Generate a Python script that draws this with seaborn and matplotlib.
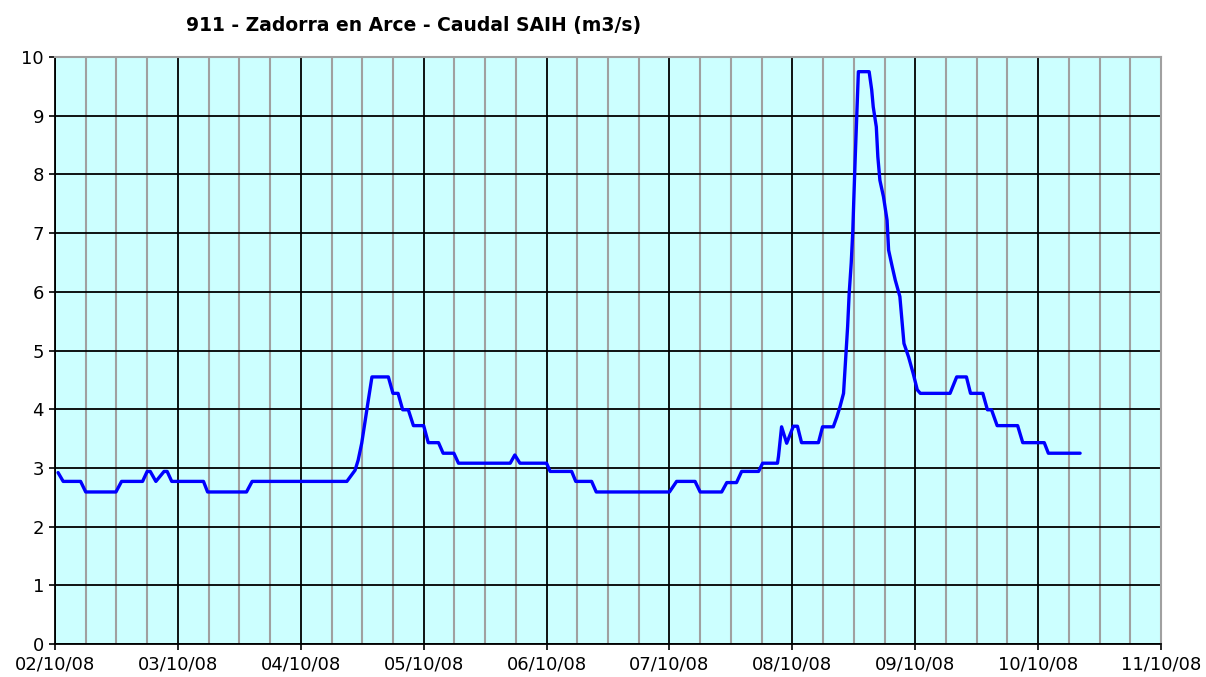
import pandas as pd
import matplotlib
matplotlib.use('Agg')
import matplotlib.pyplot as plt
import matplotlib.dates as mdates
import seaborn as sns

# hours since 02/10/08 00:00 and flow (m3/s)
hours = [0.6, 1.6, 5, 6, 11.9, 13, 17.1, 18, 18.6, 19.7, 21.3, 21.9, 22.8, 29, 29.8,
         37.4, 38.5, 57, 58.6, 59.2, 59.9, 60.5, 61.2, 61.9, 65.1, 66, 67, 67.9, 69, 70,
         72, 72.9, 74.9, 75.8, 77.9, 78.8, 88.9, 89.8, 90.8, 96, 96.7, 100.9, 101.7,
         104.8, 105.7, 120, 121.4, 125, 126, 130.2, 131.2, 133.1, 134.1, 137.4, 138.2,
         141.1, 141.3, 141.9, 142.9, 144.2, 145, 145.8, 149.1, 149.9, 152, 152.7, 153.3,
         154, 154.4, 154.8, 155.1, 155.5, 155.8, 156, 156.3, 156.6, 156.9, 159, 159.5,
         159.8, 160.4, 160.7, 161.1, 161.8, 162.5, 162.8, 163.5, 164.1, 165, 165.8,
         166.7, 167.6, 168.4, 169, 174.8, 176.1, 178, 178.8, 181.2, 182.1, 182.9, 184,
         188, 189, 193.2, 194, 200.2]
caudal = [2.92, 2.77, 2.77, 2.59, 2.59, 2.77, 2.77, 2.94, 2.94, 2.77, 2.94, 2.94, 2.77,
          2.77, 2.59, 2.59, 2.77, 2.77, 2.96, 3.13, 3.42, 3.76, 4.16, 4.55, 4.55, 4.27,
          4.27, 3.99, 3.99, 3.72, 3.72, 3.43, 3.43, 3.25, 3.25, 3.08, 3.08, 3.22, 3.08,
          3.08, 2.94, 2.94, 2.77, 2.77, 2.59, 2.59, 2.77, 2.77, 2.59, 2.59, 2.75, 2.75,
          2.94, 2.94, 3.08, 3.08, 3.2, 3.70, 3.42, 3.71, 3.71, 3.43, 3.43, 3.70, 3.70,
          3.87, 4.04, 4.27, 4.84, 5.41, 5.97, 6.49, 7.02, 7.56, 8.33, 9.04, 9.75, 9.75,
          9.44, 9.15, 8.81, 8.30, 7.90, 7.62, 7.22, 6.71, 6.43, 6.20, 5.92, 5.12, 4.89,
          4.61, 4.33, 4.27, 4.27, 4.55, 4.55, 4.27, 4.27, 3.99, 3.99, 3.72, 3.72, 3.43,
          3.43, 3.25, 3.25]

start = pd.Timestamp('2008-10-02')
end = pd.Timestamp('2008-10-11')
df = pd.DataFrame({'t': start + pd.to_timedelta(hours, unit='h'), 'q': caudal})

sns.set_style('ticks', {'axes.facecolor': '#CCFFFF', 'text.color': 'black',
                        'xtick.color': 'black', 'ytick.color': 'black'})
plt.rcParams['font.family'] = ['DejaVu Sans']

fig = plt.figure(figsize=(12.06, 6.77), dpi=100)
ax = fig.add_axes([55 / 1206, 1 - 644 / 677, (1161 - 55) / 1206, (644 - 57) / 677])

sns.lineplot(data=df, x='t', y='q', ax=ax, color='#0000FF', linewidth=2.4)

ax.set_xlim(start, end)
ax.set_ylim(0, 10)
ax.set_yticks(range(0, 11))
ax.xaxis.set_major_locator(mdates.DayLocator())
ax.xaxis.set_minor_locator(mdates.HourLocator(byhour=[6, 12, 18]))
ax.xaxis.set_major_formatter(mdates.DateFormatter('%d/%m/%y'))

ax.set_axisbelow(True)
ax.grid(which='minor', axis='x', color='#A0A0A0', linewidth=1.5)
ax.grid(which='major', axis='both', color='black', linewidth=1.3)

ax.tick_params(which='major', length=4, width=1.2, color='black',
               labelcolor='black', labelsize=13, pad=4)
ax.tick_params(which='minor', length=0)
ax.set_xlabel('')
ax.set_ylabel('')

for s in ['left', 'bottom']:
    ax.spines[s].set_color('black')
    ax.spines[s].set_linewidth(1.3)
for s in ['top', 'right']:
    ax.spines[s].set_visible(True)
    ax.spines[s].set_color('#A0A0A0')
    ax.spines[s].set_linewidth(1.5)

fig.text(414 / 1206, 1 - 25 / 677, '911 - Zadorra en Arce - Caudal SAIH (m3/s)',
         ha='center', va='center', fontsize=13.5, fontweight='bold', color='black')

fig.savefig('out.png', dpi=100)
